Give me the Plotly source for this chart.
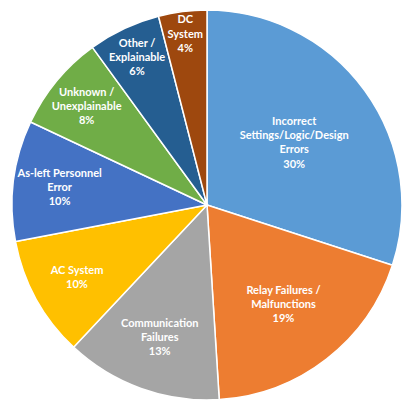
import plotly.graph_objects as go

labels = ["Incorrect Settings/Logic/Design Errors", "Relay Failures / Malfunctions",
          "Communication Failures", "AC System", "As-left Personnel Error",
          "Unknown / Unexplainable", "Other / Explainable", "DC System"]
display = ["Incorrect<br>Settings/Logic/Design<br>Errors", "Relay Failures /<br>Malfunctions",
           "Communication<br>Failures", "AC System", "As-left Personnel<br>Error",
           "Unknown /<br>Unexplainable", "Other /<br>Explainable", "DC<br>System"]
values = [30, 19, 13, 10, 10, 8, 6, 4]
colors = ["#5B9BD5", "#ED7D31", "#A5A5A5", "#FFC000", "#4472C4", "#70AD47", "#255E91", "#9E480E"]

fig = go.Figure(go.Pie(
    labels=labels, values=values, customdata=display,
    sort=False, direction="clockwise", rotation=0,
    marker=dict(colors=colors, line=dict(color="white", width=1.5)),
    texttemplate="%{customdata}<br>%{value}%", textposition="inside",
    insidetextorientation="horizontal",
    textfont=dict(family="Lato", size=11, color="white", weight="bold"),
    domain=dict(x=[0.0299, 1.0], y=[0.0099, 0.975]),
    showlegend=False, hoverinfo="label+value",
))
fig.update_layout(width=402, height=404, margin=dict(l=0, r=0, t=0, b=0),
                  paper_bgcolor="white", uniformtext=dict(minsize=11, mode="show"))
fig.write_html("out.html")
